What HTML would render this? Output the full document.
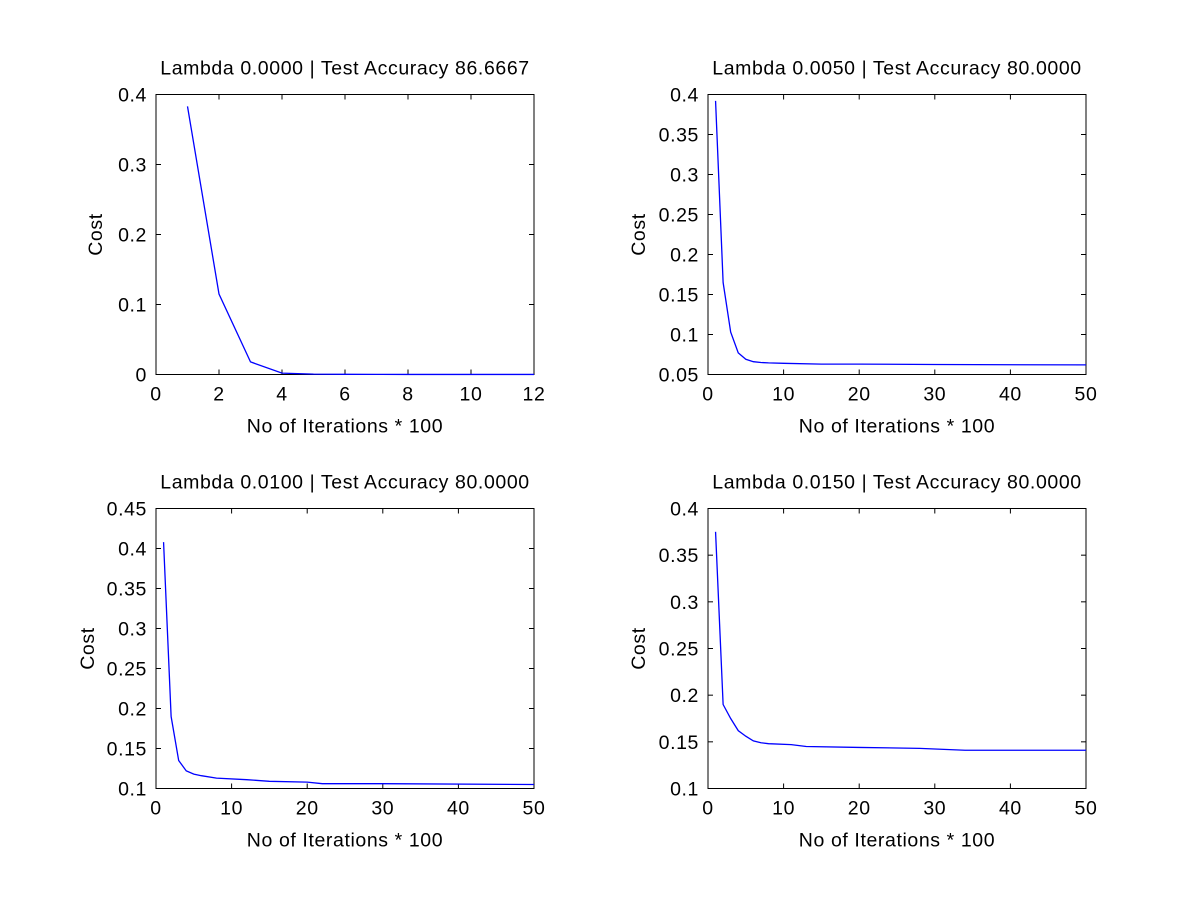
<!DOCTYPE html>
<html><head><meta charset="utf-8"><style>
body{margin:0;background:#fff}
text{font-family:"Liberation Sans",sans-serif;font-size:19.5px;letter-spacing:0.6px;fill:#000}
</style></head><body>
<svg id="fig" width="1200" height="900" xmlns="http://www.w3.org/2000/svg"></svg>
<script>
const titles=["Lambda 0.0000 | Test Accuracy 86.6667","Lambda 0.0050 | Test Accuracy 80.0000","Lambda 0.0100 | Test Accuracy 80.0000","Lambda 0.0150 | Test Accuracy 80.0000"];
const xs1=[1,2,3,4,5,6,7,8,9,10,11,12];
const ys1=[0.383,0.115,0.018,0.002,0.0005,0.0003,0.0002,0.0001,0.0001,0.0001,0.0001,0.0001];
const xs2=[1,2,3,4,5,6,7,8,10,15,20,30,50];
const ys2=[0.392,0.165,0.103,0.077,0.069,0.066,0.065,0.0645,0.064,0.063,0.063,0.0625,0.062];
const xs3=[1,2,3,4,5,6,8,12,15,20,22,30,50];
const ys3=[0.408,0.19,0.135,0.122,0.118,0.116,0.113,0.111,0.109,0.108,0.106,0.106,0.105];
const xs4=[1,2,3,4,5,6,7,8,11,13,20,28,34,50];
const ys4=[0.375,0.19,0.175,0.162,0.156,0.151,0.149,0.148,0.147,0.145,0.144,0.143,0.141,0.141];
const xt1=[0,2,4,6,8,10,12], yt1=["0","0.1","0.2","0.3","0.4"];
const xt2=[0,10,20,30,40,50], yt2=["0.05","0.1","0.15","0.2","0.25","0.3","0.35","0.4"];
const yt3=["0.1","0.15","0.2","0.25","0.3","0.35","0.4","0.45"];
const yt4=["0.1","0.15","0.2","0.25","0.3","0.35","0.4"];
const panels=[
 {L:156,R:534,T:94.5,B:374.5,xs:xs1,ys:ys1,xt:xt1,yt:yt1,ylx:100},
 {L:708,R:1086,T:94.5,B:374.5,xs:xs2,ys:ys2,xt:xt2,yt:yt2,ylx:643},
 {L:156,R:534,T:508.5,B:788.5,xs:xs3,ys:ys3,xt:xt2,yt:yt3,ylx:92},
 {L:708,R:1086,T:508.5,B:788.5,xs:xs4,ys:ys4,xt:xt2,yt:yt4,ylx:643}];
const svg=document.getElementById('fig');const NS="http://www.w3.org/2000/svg";
function mk(tag,at,txt){const e=document.createElementNS(NS,tag);for(const k in at)e.setAttribute(k,at[k]);if(txt!=null)e.textContent=txt;svg.appendChild(e);return e;}
panels.forEach((p,i)=>{
 const yv=p.yt.map(Number);const x0=p.xt[0],x1=p.xt[p.xt.length-1],y0=yv[0],y1=yv[yv.length-1];
 const sx=v=>p.L+(v-x0)/(x1-x0)*(p.R-p.L), sy=v=>p.B-(v-y0)/(y1-y0)*(p.B-p.T);
 let e=mk('rect',{x:p.L,y:p.T,width:p.R-p.L,height:p.B-p.T,fill:'none',stroke:'#000','stroke-width':1});
 
 
 p.xt.forEach(v=>{const X=sx(v);
  mk('line',{x1:X,x2:X,y1:p.B,y2:p.B-5,stroke:'#000'});mk('line',{x1:X,x2:X,y1:p.T,y2:p.T+5,stroke:'#000'});
  e=mk('text',{x:X,y:p.B+26,'text-anchor':'middle'},String(v));
  
  });
 p.yt.forEach((s,j)=>{const Y=sy(yv[j]);
  mk('line',{x1:p.L,x2:p.L+5,y1:Y,y2:Y,stroke:'#000'});mk('line',{x1:p.R,x2:p.R-5,y1:Y,y2:Y,stroke:'#000'});
  e=mk('text',{x:p.L-9,y:Y+7,'text-anchor':'end'},s);
  
  });
 e=mk('polyline',{points:p.xs.map((v,k)=>sx(v)+','+sy(p.ys[k])).join(' '),fill:'none',stroke:'#0000ff','stroke-width':1.3});
 
 
 const cx=(p.L+p.R)/2;
 e=mk('text',{x:cx,y:p.T-20,'text-anchor':'middle'},titles[i]);
 
 
 e=mk('text',{x:cx,y:p.B+58,'text-anchor':'middle'},'No of Iterations * 100');
 
 
 const cy=(p.T+p.B)/2;
 e=mk('text',{x:p.ylx+2,y:cy,'text-anchor':'middle',transform:`rotate(-90 ${p.ylx+2} ${cy})`},'Cost');
 
 
});
</script>
</body></html>
